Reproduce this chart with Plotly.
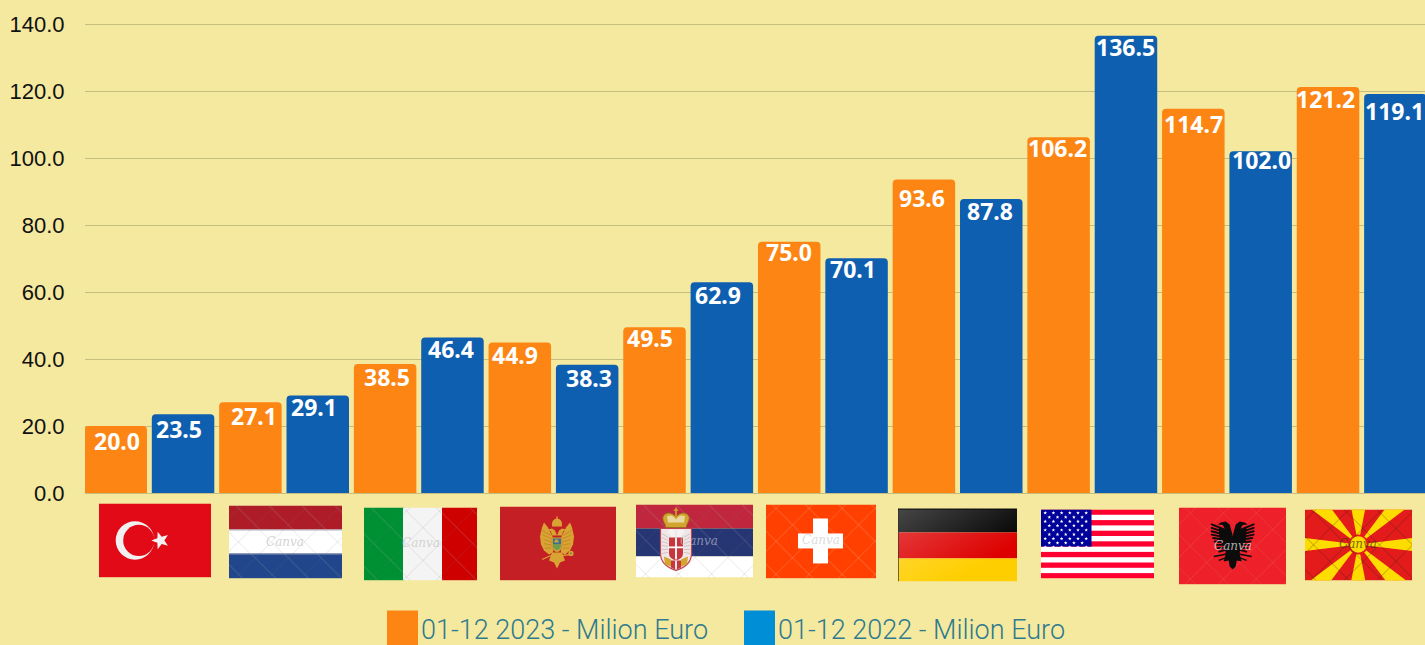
import base64
import math
import plotly.graph_objects as go

# ---------- data ----------
countries = ["Turkey", "Netherlands", "Italy", "Montenegro", "Serbia",
             "Switzerland", "Germany", "USA", "Albania", "North Macedonia"]
values_2023 = [20.0, 27.1, 38.5, 44.9, 49.5, 75.0, 93.6, 106.2, 114.7, 121.2]
values_2022 = [23.5, 29.1, 46.4, 38.3, 62.9, 70.1, 87.8, 136.5, 102.0, 119.1]
name_2023 = "01-12 2023 - Milion Euro"
name_2022 = "01-12 2022 - Milion Euro"
y_ticks = [0, 20, 40, 60, 80, 100, 120, 140]
y_tick_labels = ["0.0", "20.0", "40.0", "60.0", "80.0", "100.0", "120.0", "140.0"]

# ---------- style ----------
W, H = 1425, 645
LEFT, TOP, BASE = 85, 22, 493.5
BG = "#f4e99f"
ORANGE = "#fc8513"
BLUE = "#0f5fb0"
BLUE_SWATCH = "#008ed6"
TEAL = "#2f7a8e"
GRID = "#c6bd80"
# label offset from the top centre of its bar, in px
drop_2023 = [15, 14, 13, 12, 11, 10, 19, 11, 15, 12]
drop_2022 = [15, 11, 11, 13, 13, 11, 12, 11, 9, 17]
nudge_2023 = [1.5, 3.5, 1.5, -4.5, -4.5, -0.5, -1.5, -1.5, 0.5, -2]
nudge_2022 = [-4.5, -4, -1, 1.5, -3.5, -4, -1.5, 0, 1, -1]


def px(x):
    return (x - LEFT) / (W - LEFT)


def py(y):
    return (BASE - y) / (BASE - TOP)


def lattice(w, h, colour="rgba(120,120,120,.22)", light="rgba(255,255,255,.28)"):
    s = 33
    out = []
    for k in range(-int(h / s) - 1, int(w / s) + 2):
        x = k * s + 6
        out.append(f'<line x1="{x}" y1="0" x2="{x+h}" y2="{h}" stroke="{colour}" stroke-width=".8"/>')
        out.append(f'<line x1="{x+h}" y1="0" x2="{x}" y2="{h}" stroke="{colour}" stroke-width=".8"/>')
        out.append(f'<line x1="{x+1}" y1="0" x2="{x+h+1}" y2="{h}" stroke="{light}" stroke-width=".5"/>')
    return "".join(out)


def star(cx, cy, r, rot=-90, inner=0.42, fill="#f1f1f1"):
    p = []
    for i in range(10):
        a = math.radians(rot + i * 36)
        rr = r if i % 2 == 0 else r * inner
        p.append(f"{cx + rr*math.cos(a):.2f},{cy + rr*math.sin(a):.2f}")
    return f'<polygon points="{" ".join(p)}" fill="{fill}"/>'


def poly(cx, cy, sign, pts, fill):
    return ('<polygon points="' + " ".join(f"{cx+sign*a},{cy+b}" for a, b in pts) + f'" fill="{fill}"/>')


def albanian_eagle(cx, cy, fill="#0c0c0c"):
    o = []
    for sign in (-1, 1):
        # neck + head + beak
        o.append(poly(cx, cy, sign, [(0, -10), (3, -21), (7, -24), (12, -23), (15, -21), (10, -20.5), (8, -17), (8, -8)], fill))
        # solid inner wing
        o.append(poly(cx, cy, sign, [(3, -12), (11, -17), (14, -19), (13, -4), (3, 6)], fill))
        # feathers fanning outward
        for i in range(9):
            yt = cy + (-21 + i * 3.4)
            tip = 21 - max(0, i - 3) * 1.5
            yb = cy + (-15 + i * 2.4)
            o.append(f'<line x1="{cx+sign*6}" y1="{yb}" x2="{cx+sign*tip}" y2="{yt}" stroke="{fill}" '
                     f'stroke-width="1.9" stroke-linecap="round"/>')
        # legs
        o.append(f'<line x1="{cx+sign*3}" y1="{cy+8}" x2="{cx+sign*19}" y2="{cy+11}" stroke="{fill}" stroke-width="1.5"/>')
        o.append(f'<line x1="{cx+sign*3}" y1="{cy+11}" x2="{cx+sign*14}" y2="{cy+15}" stroke="{fill}" stroke-width="1.3"/>')
    # body and tail
    o.append(f'<path d="M{cx-8} {cy-10} L{cx+8} {cy-10} L{cx+7} {cy+9} L{cx+9} {cy+16} L{cx+4} {cy+15} L{cx+3} {cy+21} '
             f'L{cx} {cy+24} L{cx-3} {cy+21} L{cx-4} {cy+15} L{cx-9} {cy+16} L{cx-7} {cy+9}Z" fill="{fill}"/>')
    return "".join(o)


def gold_eagle(cx, cy):
    gold, dark = "#d9a334", "#b77f24"
    o = []
    for sign in (-1, 1):
        o.append(poly(cx, cy, sign, [(4, -5), (9, -15), (13, -20), (15, -15), (17, -6), (16, 2), (13, 8), (8, 12), (4, 10)], gold))
        for i in range(5):
            o.append(f'<line x1="{cx+sign*6}" y1="{cy-7+i*3.2}" x2="{cx+sign*(15-i*.7)}" y2="{cy-12+i*4.4}" '
                     f'stroke="{dark}" stroke-width=".7"/>')
        # head
        o.append(poly(cx, cy, sign, [(0, -7), (2, -12), (5, -14), (9, -13), (6, -11), (5, -7)], gold))
        # claw, sceptre and orb
        o.append(f'<line x1="{cx+sign*6}" y1="{cy+13}" x2="{cx+sign*(15)}" y2="{cy+17 if sign<0 else cy+12}" stroke="{gold}" stroke-width="1.2"/>')
    o.append(f'<circle cx="{cx+14}" cy="{cy+11}" r="2.6" fill="{gold}"/><circle cx="{cx+14}" cy="{cy+11}" r="1.1" fill="#7f8f4a"/>')
    # tail
    o.append(f'<path d="M{cx-5} {cy+10} L{cx+5} {cy+10} L{cx+8} {cy+18} L{cx+3} {cy+20} L{cx} {cy+26} L{cx-3} {cy+20} L{cx-8} {cy+18}Z" fill="{gold}"/>')
    # crown
    o.append(f'<path d="M{cx-5} {cy-16} Q{cx-6} {cy-23} {cx} {cy-24} Q{cx+6} {cy-23} {cx+5} {cy-16}Z" fill="{gold}"/>'
             f'<rect x="{cx-.7}" y="{cy-26}" width="1.4" height="3" fill="{gold}"/>')
    # shield
    o.append(f'<path d="M{cx-5} {cy-5} h10 v9 q0 4 -5 6 q-5 -2 -5 -6Z" fill="{gold}" stroke="{dark}" stroke-width=".6"/>'
             f'<path d="M{cx-4} {cy-4} h8 v6 h-8Z" fill="#3a6f95"/>'
             f'<path d="M{cx-4} {cy+2} h8 v2 q-1 3 -4 4 q-3 -1 -4 -4Z" fill="#6f9d4c"/>'
             f'<path d="M{cx-3} {cy} l1 -3 h3 l1 3Z" fill="#c9a23a"/>')
    return "".join(o)


def serbian_arms(cx):
    gold, dark = "#d3a52e", "#8f6a1c"
    red = "#c6363c"
    o = []
    # shield
    o.append(f'<path d="M{cx-15.5} 24 h31 v25 q0 12 -15.5 17 q-15.5 -5 -15.5 -17Z" fill="#efe7e7" stroke="#c0434f" stroke-width="1.2"/>')
    for sign in (-1, 1):
        for i in range(6):
            o.append(f'<line x1="{cx+sign*8}" y1="{33+i*3}" x2="{cx+sign*14}" y2="{29+i*4}" stroke="#c9bdbd" stroke-width=".9"/>')
        o.append(poly(cx, 0, sign, [(1, 26), (5, 25), (9, 27), (6, 30), (4, 34), (1, 34)], "#f7f2f2"))
        o.append(poly(cx, 0, sign, [(5, 55), (12, 52), (11, 60), (5, 62)], gold))
        o.append(poly(cx, 0, sign, [(1, 56), (5, 56), (5, 63), (1, 65)], red))
    # inner shield with cross
    o.append(f'<path d="M{cx-7} 33 h14 v16 q0 5 -7 7 q-7 -2 -7 -7Z" fill="{red}"/>'
             f'<rect x="{cx-.9}" y="33" width="1.8" height="22" fill="#fff"/>'
             f'<rect x="{cx-7}" y="42" width="14" height="1.8" fill="#fff"/>')
    # crown
    o.append(f'<path d="M{cx-11} 20 Q{cx-16} 12 {cx-10} 9 Q{cx-5} 7 {cx} 12 Q{cx+5} 7 {cx+10} 9 Q{cx+16} 12 {cx+11} 20 L{cx+10} 23 L{cx-10} 23Z" '
             f'fill="{gold}" stroke="{dark}" stroke-width=".8"/>'
             f'<path d="M{cx-9} 12 Q{cx-4} 9 {cx} 15 Q{cx+4} 9 {cx+9} 12 L{cx+8} 18 L{cx-8} 18Z" fill="#e9d9a0"/>'
             f'<rect x="{cx-.8}" y="3" width="1.6" height="9" fill="{gold}"/><rect x="{cx-2.2}" y="5" width="4.4" height="1.4" fill="{gold}"/>'
             f'<rect x="{cx-10}" y="19" width="20" height="3.4" fill="{gold}"/>')
    return "".join(o)


def turkey(w, h):
    cx, cy = 36, 37
    return (f'<rect width="{w}" height="{h}" fill="#e30a17"/>'
            f'<circle cx="{cx}" cy="{cy}" r="19.3" fill="#f1f1f1"/>'
            f'<circle cx="{cx+3.8}" cy="{cy}" r="15.6" fill="#e30a17"/>'
            + star(61.5, 37, 9.2, rot=180))


def netherlands(w, h):
    return (f'<rect width="{w}" height="25" fill="#ae1c28"/>'
            f'<rect y="24" width="{w}" height="25" fill="#ffffff"/>'
            f'<rect y="48" width="{w}" height="{h-48}" fill="#21468b"/>'
            f'<rect y="24" width="{w}" height="1" fill="#a9a9b5"/><rect y="48" width="{w}" height="1" fill="#9aa3bb"/>'
            + lattice(w, h))


def italy(w, h):
    return (f'<rect width="40" height="{h}" fill="#009034"/>'
            f'<rect x="39" width="40" height="{h}" fill="#f4f4f4"/>'
            f'<rect x="78" width="{w-78}" height="{h}" fill="#cf0000"/>' + lattice(w, h))


def montenegro(w, h):
    return f'<rect width="{w}" height="{h}" fill="#c41f25"/>' + gold_eagle(57, 36)


def serbia(w, h):
    return (f'<rect width="{w}" height="24" fill="#c0273e"/>'
            f'<rect y="24" width="{w}" height="28" fill="#263573"/>'
            f'<rect y="52" width="{w}" height="{h-52}" fill="#ffffff"/>' + lattice(w, h)
            + serbian_arms(40))


def switzerland(w, h):
    return (f'<rect width="{w}" height="{h}" fill="#ff4000"/>' + lattice(w, h, "rgba(255,190,160,.35)", "rgba(255,255,255,.12)")
            + f'<rect x="47" y="14" width="15" height="45" fill="#fff"/><rect x="32" y="29" width="45" height="15" fill="#fff"/>')


def germany(w, h):
    return ('<defs><linearGradient id="g" x1="0" y1="0" x2="1" y2="1">'
            '<stop offset="0" stop-color="#fff" stop-opacity=".28"/><stop offset=".75" stop-color="#fff" stop-opacity="0"/>'
            '</linearGradient></defs>'
            f'<rect width="{w}" height="24" fill="#000"/>'
            f'<rect y="24" width="{w}" height="26" fill="#dd0000"/>'
            f'<rect y="50" width="{w}" height="{h-50}" fill="#ffce00"/>'
            f'<rect width="{w}" height="{h}" fill="url(#g)"/>'
            f'<rect width="1" height="{h}" fill="#333" opacity=".7"/><rect width="{w}" height="1" fill="#000"/>')


def usa(w, h):
    o = [f'<rect width="{w}" height="{h}" fill="#ff0030"/>']
    sh = h / 13
    for i in range(1, 13, 2):
        o.append(f'<rect y="{i*sh:.2f}" width="{w}" height="{sh:.2f}" fill="#fff"/>')
    o.append(f'<rect width="50.5" height="{7*sh:.2f}" fill="#00009b"/>')
    for r in range(9):
        cols = 6 if r % 2 == 0 else 5
        for c in range(cols):
            x = 4.2 + c * 8.2 + (0 if r % 2 == 0 else 4.1)
            y = 3.4 + r * 4.3
            o.append(star(round(x, 1), round(y, 1), 1.9, fill="#fff"))
    return "".join(o)


def albania(w, h):
    return (f'<rect width="{w}" height="{h}" fill="#ee2029"/>' + lattice(w, h, "rgba(255,255,255,.14)", "rgba(120,0,0,.12)")
            + albanian_eagle(53.7, 38))


def macedonia(w, h):
    cx, cy = 53.3, 35
    o = [f'<rect width="{w}" height="{h}" fill="#e31b1b"/>']
    half = {0: 7, 1: 8, 2: 11, 3: 8, 4: 7, 5: 8, 6: 11, 7: 8}
    for k in range(8):
        a = math.radians(k * 45)
        d = math.radians(half[k])
        L = 130
        o.append(f'<polygon points="{cx},{cy} {cx+L*math.cos(a-d):.1f},{cy+L*math.sin(a-d):.1f} '
                 f'{cx+L*math.cos(a+d):.1f},{cy+L*math.sin(a+d):.1f}" fill="#ffdc00"/>')
    o.append(f'<circle cx="{cx}" cy="{cy}" r="10" fill="#e31b1b"/><circle cx="{cx}" cy="{cy}" r="8.3" fill="#ffdc00"/>')
    o.append(lattice(w, h, "rgba(40,40,20,.42)", "rgba(0,0,0,0)"))
    return "".join(o)


# left, top, right, bottom in page pixels
flag_boxes = [
    (99, 504, 211, 578, turkey),
    (229, 506, 342, 579, netherlands),
    (364, 508, 477, 581, italy),
    (500, 507, 616, 581, montenegro),
    (636, 505, 753, 578, serbia),
    (766, 505, 876, 579, switzerland),
    (898, 509, 1017, 582, germany),
    (1041, 510, 1154, 579, usa),
    (1179, 508, 1286, 585, albania),
    (1305, 510, 1412, 581, macedonia),
]

images = []
for x0, y0, x1, y1, fn in flag_boxes:
    w, h = x1 - x0, y1 - y0
    svg = (f'<svg xmlns="http://www.w3.org/2000/svg" width="{w}" height="{h}" viewBox="0 0 {w} {h}">'
           f'{fn(w, h)}</svg>')
    uri = "data:image/svg+xml;base64," + base64.b64encode(svg.encode()).decode()
    images.append(dict(source=uri, xref="paper", yref="paper", x=px(x0), y=py(y0),
                       sizex=(x1 - x0) / (W - LEFT), sizey=(y1 - y0) / (BASE - TOP),
                       xanchor="left", yanchor="top", sizing="stretch", layer="above"))

fig = go.Figure()
fig.add_bar(x=countries, y=values_2023, name=name_2023, marker=dict(color=ORANGE, cornerradius=4, line_width=0))
fig.add_bar(x=countries, y=values_2022, name=name_2022, marker=dict(color=BLUE, cornerradius=4, line_width=0))

annotations = []
for series, drops, nudges, shift in ((values_2023, drop_2023, nudge_2023, -33.7),
                                     (values_2022, drop_2022, nudge_2022, 33.7)):
    for c, v, d, n in zip(countries, series, drops, nudges):
        annotations.append(dict(x=c, y=v, xref="x", yref="y", text=f"{v:.1f}", showarrow=False,
                                xanchor="center", yanchor="middle", xshift=shift + n, yshift=-d,
                                font=dict(family="Noto Sans", size=23, color="#ffffff", weight=700)))

for x, y, col in [(285, 543, "rgba(205,205,205,.9)"), (421, 544, "rgba(205,205,205,.9)"),
                  (699, 542, "rgba(215,215,225,.55)"), (821, 541, "rgba(215,215,215,.9)"),
                  (1233, 547, "rgba(225,225,225,.75)"), (1358, 545, "rgba(60,50,10,.7)")]:
    annotations.append(dict(x=px(x), y=py(y), xref="paper", yref="paper", text="<i>Canva</i>", showarrow=False,
                            xanchor="center", yanchor="middle",
                            font=dict(family="DejaVu Serif", size=12, color=col)))

shapes = []
for x0, label, col in ((387, name_2023, ORANGE), (744, name_2022, BLUE_SWATCH)):
    shapes.append(dict(type="rect", xref="paper", yref="paper", x0=px(x0), x1=px(x0 + 31),
                       y0=py(611), y1=py(646), fillcolor=col, line_width=0, layer="above"))
    annotations.append(dict(x=px(x0 + 32), y=py(631), xref="paper", yref="paper", text=label, showarrow=False,
                            xanchor="left", yanchor="middle",
                            font=dict(family="Roboto", size=27, color=TEAL, weight=300)))

fig.update_layout(
    width=W, height=H, autosize=False, showlegend=False,
    margin=dict(l=LEFT, r=0, t=TOP, b=H - BASE, pad=0),
    paper_bgcolor=BG, plot_bgcolor=BG,
    barmode="group", bargap=0, bargroupgap=0.072,
    images=images, annotations=annotations, shapes=shapes,
    xaxis=dict(type="category", range=[-0.478, 9.47], showticklabels=False, ticks="",
               showgrid=False, zeroline=False, showline=False, fixedrange=True),
    yaxis=dict(range=[0, 140.6], tickvals=y_ticks, ticktext=y_tick_labels,
               tickfont=dict(family="Liberation Sans", size=22, color="#111111"),
               ticks="outside", ticklen=0, ticklabelstandoff=15,
               showgrid=True, gridcolor=GRID, gridwidth=1,
               zeroline=True, zerolinecolor=GRID, zerolinewidth=1, showline=False, fixedrange=True),
)

fig.write_html("out.html", config=dict(displayModeBar=False),
               post_script="document.body.style.margin='0';document.body.style.overflow='hidden';")
